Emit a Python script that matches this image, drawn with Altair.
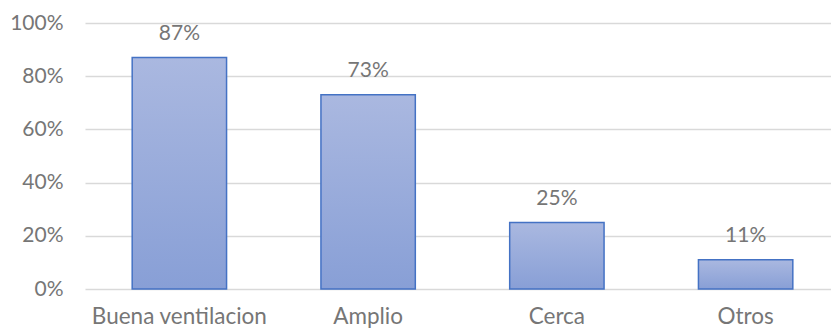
import altair as alt
import pandas as pd

categories = ["Buena ventilacion", "Amplio", "Cerca", "Otros"]
values = [0.87, 0.73, 0.25, 0.11]
labels = ["87%", "73%", "25%", "11%"]

df = pd.DataFrame({"cat": categories, "val": values, "lab": labels})

FONT = "Lato"
GRAY = "#767676"

x = alt.X("cat:N", sort=categories, title=None,
          scale=alt.Scale(range=[0, 755], paddingInner=0.5, paddingOuter=0.25),
          axis=alt.Axis(labelAngle=0, domain=False, ticks=False, labelFont=FONT,
                        labelFontSize=22.5, labelColor=GRAY, labelPadding=16))
y = alt.Y("val:Q", title=None,
          scale=alt.Scale(domain=[0, 1]),
          axis=alt.Axis(format="%", values=[0, 0.2, 0.4, 0.6, 0.8, 1.0], domain=False,
                        ticks=False, labelFont=FONT, labelFontSize=21, labelColor=GRAY,
                        labelPadding=22, gridColor="#d9d9d9", gridWidth=1.3))

bars = alt.Chart(df).mark_bar(
    color=alt.Gradient(gradient="linear", x1=0, x2=0, y1=0, y2=1,
                       stops=[alt.GradientStop(color="#aab8e0", offset=0),
                              alt.GradientStop(color="#889fd6", offset=1)]),
    stroke="#4472c4", strokeWidth=1.5
).encode(x=x, y=y)

text = alt.Chart(df).mark_text(
    font=FONT, fontSize=21, color=GRAY, baseline="alphabetic", dy=-18
).encode(x=alt.X("cat:N", sort=categories), y="val:Q", text="lab:N")

chart = (bars + text).properties(
    width=746, height=266,
    autosize=alt.AutoSizeParams(type="none"),
    padding={"left": 85, "top": 23, "right": 0, "bottom": 39}
).configure_view(stroke=None)

chart.save("out.html", embed_options={"renderer": "svg", "actions": False})
